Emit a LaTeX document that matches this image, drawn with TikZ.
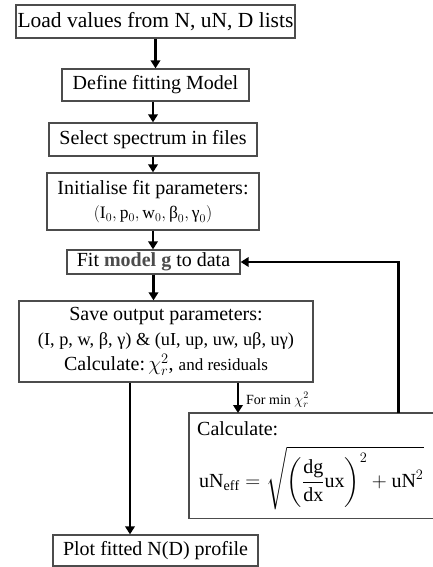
\documentclass[tikz,border=0pt]{standalone}
\usepackage{amsmath}
\usepackage{fontspec}
\setmainfont{Liberation Serif}
\usetikzlibrary{arrows.meta}
\begin{document}
\begin{tikzpicture}[x=1pt,y=-1pt,
  box/.style={draw=black!70, line width=1.3pt, fill=white, align=center, inner sep=0pt,
    font=\fontsize{20}{24.5}\selectfont},
  arr/.style={line width=2.6pt, -{Triangle[length=8pt,width=9.5pt]}},
  lbl/.style={font=\fontsize{14}{16}\selectfont, inner sep=0pt}]
\useasboundingbox (0,0) rectangle (433,567);
\node[box, minimum width=279pt, minimum height=33pt, font=\fontsize{21.5}{24.5}\selectfont] (load) at (155.5,21.5) {Load values from N, uN, D lists};
\node[box, minimum width=187pt, minimum height=32pt] (model) at (155.5,85) {Define fitting Model};
\node[box, minimum width=208pt, minimum height=33pt] (select) at (153,139.5) {Select spectrum in files};
\node[box, minimum width=212pt, minimum height=57pt] (init) at (153,201.5) {Initialise fit parameters:\\{\fontsize{17.5}{24.5}\selectfont$(\mathrm{I}_0,\mathrm{p}_0,\mathrm{w}_0,\text{β}_0,\text{γ}_0)$}};
\node[box, minimum width=173pt, minimum height=24pt] (fit) at (153.5,262) {Fit \textcolor{black!70}{\textbf{model g}} to data};
\node[box, minimum width=294pt, minimum height=81pt] (save) at (166,341.5) {Save output parameters:\\{\fontsize{18.3}{24.5}\selectfont (I, p, w, β, γ) \& (uI, up, uw, uβ, uγ)}\\[1pt]Calculate:\,$\chi_r^2$, {\fontsize{17}{24.5}\selectfont and residuals}};
\node[draw=none, anchor=north west, minimum width=244pt, minimum height=105pt, inner sep=0pt] (calc) at (189,413) {};
\draw[draw=black!70, line width=1.3pt] (calc.north east) -- (calc.north west) -- (calc.south west) -- (calc.south east);
\node[anchor=north west, inner sep=0pt, font=\fontsize{20}{24}\selectfont] (calct) at ([xshift=8pt,yshift=-8pt]calc.north west) {Calculate:};
\node[anchor=west, inner sep=0pt, font=\fontsize{20}{24}\selectfont] (form) at ([xshift=10pt,yshift=-65pt]calc.north west) {$\displaystyle \mathrm{uN}_{\mathrm{eff}} = \sqrt{\left(\frac{\mathrm{dg}}{\mathrm{dx}}\mathrm{ux}\right)^{2} + \mathrm{uN}^{2}}$};
\node[box, minimum width=205pt, minimum height=31pt] (plot) at (155.5,550.5) {Plot fitted N(D) profile};
\draw[arr] (load.south) -- (model.north);
\draw[arr] (select.north |- model.south) -- (select.north);
\draw[arr] (select.south) -- (init.north);
\draw[arr] (init.south) -- (init.south |- fit.north);
\draw[arr] (fit.south) -- (fit.south |- save.north);
\draw[arr] ([xshift=-36pt]save.south) -- ([xshift=-36pt]save.south |- plot.north);
\draw[arr] ([xshift=72pt]save.south) -- ([xshift=72pt]save.south |- calc.north);
\node[lbl, anchor=west] (formin) at (246,400) {For min $\chi_r^2$};
\draw[arr] ([xshift=87pt]calc.north) |- (fit.east);
\end{tikzpicture}
\end{document}
